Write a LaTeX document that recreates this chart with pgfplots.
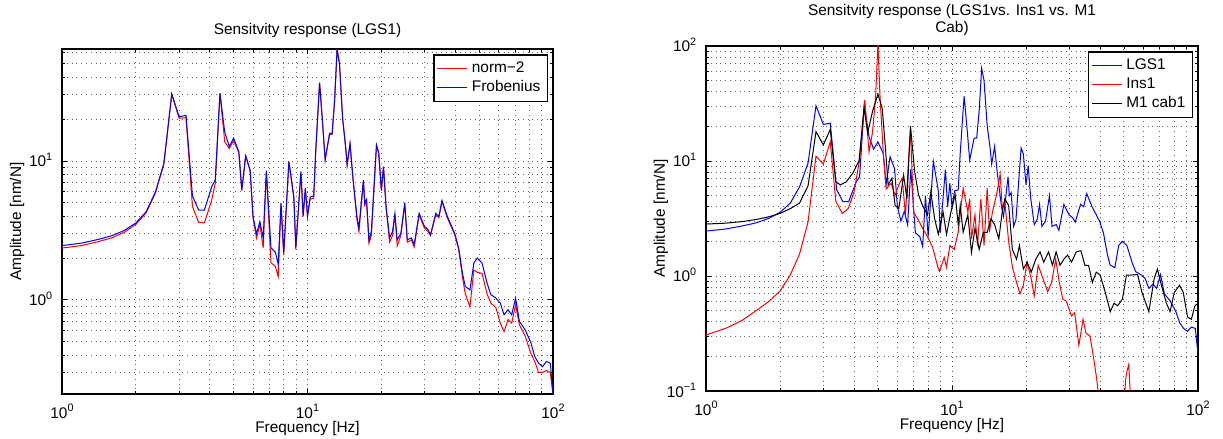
\documentclass[border=0pt]{standalone}
\usepackage{fontspec}
\setmainfont{Liberation Sans}
\usepackage{pgfplots}
\usepackage{pgfplotstable}
\pgfplotsset{compat=1.18}

\newcommand{\fs}{\fontsize{7.7}{9.5}\selectfont}
\newcommand{\logexp}[1]{\pgfmathparse{int(round(#1))}\ifnum\pgfmathresult<0 −\number\numexpr-\pgfmathresult\relax\else\pgfmathresult\fi}
\newcommand{\tenpow}[1]{10\raisebox{0.42em}{\fontsize{5.4}{6}\selectfont\logexp{#1}}}

% LGS1 / Frobenius
\pgfplotstableread{
f A
1.0 2.46
1.2 2.56
1.4 2.72
1.6 2.90
1.8 3.17
2.0 3.58
2.2 4.30
2.4 5.95
2.6 9.6
2.8 30.3
3.0 20.8
3.2 21.3
3.4 5.6
3.6 4.44
3.8 4.42
4.07 6.5
4.21 7.3
4.40 30.7
4.60 16.2
4.80 12.7
5.00 14.6
5.25 11.7
5.40 6.25
5.60 10.9
5.84 8.6
6.00 3.98
6.20 3.00
6.40 3.66
6.60 2.78
6.80 8.5
7.10 2.37
7.40 2.20
7.60 1.80
7.80 5.0
8.00 2.20
8.40 9.9
8.80 5.5
8.96 2.40
9.40 8.4
9.60 4.0
9.80 6.4
10.0 4.0
10.25 5.5
10.6 5.6
10.8 11.7
11.2 36.6
11.5 19.7
11.8 10.2
12.3 15.8
12.6 15.8
12.9 27.5
13.2 64
13.5 50
13.9 20.3
14.3 12.7
14.5 9.4
14.9 13.4
15.3 7.7
15.9 3.98
16.2 3.3
16.9 7.3
17.1 5.0
17.4 5.3
17.8 2.7
18.2 3.1
19.1 13.0
19.5 11.5
20.0 6.2
20.4 9.1
20.9 4.7
21.6 2.8
22.2 3.1
22.7 4.2
23.2 2.7
24.0 3.0
24.9 5.0
25.5 2.7
26.5 2.8
27.2 2.5
28.5 4.2
29.9 3.4
31.0 3.2
31.7 2.94
33.3 4.2
34.3 4.0
35.3 5.2
37.1 4.0
39.8 3.0
41.3 2.35
42.8 1.55
43.9 1.25
45.9 1.18
47.6 1.84
49.2 2.0
51.4 1.84
53.9 1.32
55.8 1.09
58.5 1.03
61.0 0.95
63.2 0.78
65.6 0.85
67.9 0.78
70.4 1.03
73.0 0.70
77.0 0.61
81.3 0.49
84.3 0.39
87.4 0.35
90.6 0.33
94.0 0.36
97.5 0.35
100 0.21
}\lgstab

% norm-2
\pgfplotstableread{
f A
1.0 2.36
1.2 2.46
1.4 2.62
1.6 2.80
1.8 3.08
2.0 3.50
2.2 4.22
2.4 5.85
2.6 9.5
2.8 30.3
3.0 20.3
3.2 20.5
3.4 4.7
3.6 3.62
3.8 3.58
4.07 5.2
4.21 6.9
4.40 30.7
4.60 13.8
4.80 12.3
5.00 14.0
5.25 11.5
5.40 6.1
5.60 10.8
5.84 8.5
6.00 3.9
6.20 2.78
6.40 3.5
6.60 2.36
6.80 8.4
7.10 1.85
7.40 1.74
7.60 1.47
7.80 4.8
8.00 2.1
8.40 9.9
8.80 5.4
8.96 2.30
9.40 8.3
9.60 4.0
9.80 6.3
10.0 4.0
10.25 5.3
10.6 5.4
10.8 11.5
11.2 36.6
11.5 19.5
11.8 10.2
12.3 15.5
12.6 15.5
12.9 27.5
13.2 64
13.5 50
13.9 20.3
14.3 12.5
14.5 9.3
14.9 13.2
15.3 7.6
15.9 3.8
16.2 3.1
16.9 7.2
17.1 4.8
17.4 5.1
17.8 2.55
18.2 2.9
19.1 13.0
19.5 11.3
20.0 6.1
20.4 9.0
20.9 4.6
21.6 2.6
22.2 2.9
22.7 4.1
23.2 2.45
24.0 2.9
24.9 4.9
25.5 2.6
26.5 2.7
27.2 2.4
28.5 4.1
29.9 3.3
31.0 3.1
31.7 2.9
33.3 4.1
34.3 3.9
35.3 5.1
37.1 3.9
39.8 2.95
41.3 2.3
42.8 1.45
43.9 1.11
45.9 0.89
47.6 1.64
49.2 1.58
51.4 1.55
53.9 1.1
55.8 0.95
58.5 0.88
61.0 0.68
63.2 0.59
65.6 0.72
67.9 0.68
70.4 0.92
73.0 0.66
77.0 0.55
81.3 0.41
84.3 0.36
87.4 0.30
90.6 0.30
94.0 0.31
97.5 0.30
100 0.21
}\normtab

% Ins1
\pgfplotstableread{
f A
1.0 0.307
1.2 0.35
1.4 0.41
1.6 0.50
1.8 0.60
2.0 0.74
2.2 1.02
2.4 1.55
2.6 2.97
2.8 11.0
3.0 9.4
3.2 14.7
3.37 4.48
3.58 3.5
3.79 3.87
4.00 5.4
4.22 10.6
4.42 34
4.60 12.0
4.75 17.6
4.89 35.7
5.00 105
5.10 35.7
5.25 12.2
5.40 5.7
5.66 6.4
5.87 5.0
6.08 6.2
6.27 7.1
6.47 3.4
6.67 10.8
6.78 18.8
6.98 3.6
7.25 3.15
7.59 2.6
7.95 2.2
8.34 1.78
8.75 1.2
8.90 1.1
9.30 1.45
9.50 1.19
9.80 1.84
10.2 1.7
10.6 2.4
10.9 4.1
11.1 5.8
11.6 3.6
11.8 4.7
12.0 2.1
12.4 3.4
12.7 1.84
13.1 4.7
13.5 1.84
13.9 5.8
14.2 2.4
14.6 3.6
15.2 5.2
15.7 7.7
16.0 3.9
16.4 4.4
17.0 1.98
17.6 1.2
18.3 0.88
18.9 0.70
19.5 0.83
20.2 1.32
21.0 0.94
21.6 0.67
22.4 1.24
23.6 0.91
24.5 0.73
25.4 0.88
26.4 1.4
27.3 0.88
28.2 0.63
29.2 0.60
30.6 0.45
31.5 0.48
32.8 0.25
34.1 0.42
35.0 0.32
36.4 0.30
38.0 0.17
38.7 0.13
39.3 0.098
40.5 0.07
45.0 0.06
50.0 0.08
50.9 0.13
51.5 0.15
52.3 0.17
53.0 0.10
54.0 0.07
60.0 0.05
80.0 0.04
100 0.03
}\instab

% M1 cab1
\pgfplotstableread{
f A
1.0 2.83
1.2 2.88
1.4 2.97
1.6 3.10
1.8 3.27
2.0 3.50
2.2 3.85
2.4 4.30
2.6 6.1
2.8 18.0
3.0 13.8
3.2 18.8
3.37 6.6
3.52 6.2
3.72 6.6
3.96 7.9
4.19 10.1
4.39 29
4.54 17.6
4.76 27.3
5.00 38.2
5.20 29
5.35 13.9
5.50 6.2
5.70 7.1
5.87 4.1
6.08 3.87
6.36 7.5
6.56 4.7
6.78 20.1
7.05 8.1
7.31 5.1
7.59 4.1
7.95 3.4
8.20 5.4
8.50 3.15
8.80 2.3
9.20 3.6
9.50 2.3
9.90 3.6
10.3 5.1
10.6 2.8
10.8 4.1
11.1 2.4
11.6 3.4
12.0 1.6
12.4 2.6
12.9 1.7
13.4 2.4
13.9 2.4
14.4 3.15
14.9 2.8
15.5 2.1
16.0 3.6
16.4 4.7
17.0 4.1
17.6 1.7
18.3 1.4
18.8 1.84
19.5 1.15
20.2 1.32
21.0 1.08
21.9 1.4
22.8 1.62
23.6 1.32
24.7 1.62
25.6 1.24
26.5 1.62
27.5 1.24
28.5 1.4
29.5 1.52
30.6 1.32
32.0 1.62
33.4 1.66
34.7 1.24
35.9 1.24
37.2 0.88
38.6 1.08
40.0 1.02
42.0 0.72
44.0 0.49
45.6 0.58
47.1 0.55
49.3 0.63
51.2 1.02
53.7 1.02
56.8 1.03
59.2 0.72
63.1 0.49
66.4 0.95
68.4 1.15
71.0 0.83
74.4 0.58
77.0 0.49
80.1 0.72
84.1 0.83
87.1 0.72
90.7 0.44
94.0 0.42
97.1 0.55
100 0.58
}\cabtab

\pgfplotsset{
  every axis/.append style={
    scale only axis,
    height=172.5pt,
    xmin=1, xmax=100,
    grid=both,
    major grid style={dotted, black!70, line width=0.45pt},
    minor grid style={dotted, black!60, line width=0.45pt},
    tick align=inside,
    major tick length=2.5pt, minor tick length=1.5pt,
    every tick/.style={black, line width=0.4pt},
    axis line style={line width=0.7pt},
    tick label style={font=\fs, inner sep=0pt},
    xticklabel style={anchor=base, yshift=-12.2pt},
    yticklabel style={anchor=base east, xshift=-4.7pt, yshift=-3pt},
    xlabel style={font=\fs, at={(axis description cs:0.5,0)}, anchor=base, yshift=-19.4pt},
    ylabel style={font=\fs, at={(axis description cs:-0.0916,0.5)}, anchor=center},
    title style={font=\fs, at={(axis description cs:0.5,1)}, anchor=south, align=center},
    legend style={font=\fs, draw=black, line width=0.7pt, inner sep=1.5pt,
      row sep=-1.5pt, legend cell align=left,
      at={(rel axis cs:0.99,0.985)}, anchor=north east},
  },
  legend image code/.code={\draw[#1, line width=0.5pt] (0pt,0pt) -- (15pt,0pt);},
}

\begin{document}
\begin{tikzpicture}
\useasboundingbox (-31pt,-22.5pt) rectangle (580.5pt,197pt);

\begin{loglogaxis}[
  width=245.5pt,
  at={(0pt,0pt)}, anchor=south west,
  ymin=0.21, ymax=64,
  log basis x=10, log basis y=10,
  xticklabel={\tenpow{\tick}},
  yticklabel={\tenpow{\tick}},
  xlabel={Frequency [Hz]},
  ylabel={Amplitude [nm/N]},
  title={Sensitvity response (LGS1)},
  title style={yshift=-3.95pt},
]
\addplot[red, line width=0.5pt] table[x=f, y=A] {\normtab};
\addlegendentry{norm−2}
\addplot[blue, line width=0.5pt] table[x=f, y=A] {\lgstab};
\addlegendentry{Frobenius}
\end{loglogaxis}

\begin{loglogaxis}[
  width=246pt,
  at={(322pt,1.5pt)}, anchor=south west,
  ymin=0.1, ymax=100,
  log basis x=10, log basis y=10,
  xticklabel={\tenpow{\tick}},
  yticklabel={\tenpow{\tick}},
  xlabel={Frequency [Hz]},
  ylabel={Amplitude [nm/N]},
  title={Sensitvity response (LGS1vs. Ins1 vs. M1\\Cab)},
  title style={yshift=-4.35pt, font=\fontsize{7.7}{8.6}\selectfont},
]
\addplot[blue, line width=0.5pt] table[x=f, y=A] {\lgstab};
\addlegendentry{LGS1}
\addplot[red, line width=0.5pt] table[x=f, y=A] {\instab};
\addlegendentry{Ins1}
\addplot[black, line width=0.5pt] table[x=f, y=A] {\cabtab};
\addlegendentry{M1 cab1}
\end{loglogaxis}
\end{tikzpicture}
\end{document}
